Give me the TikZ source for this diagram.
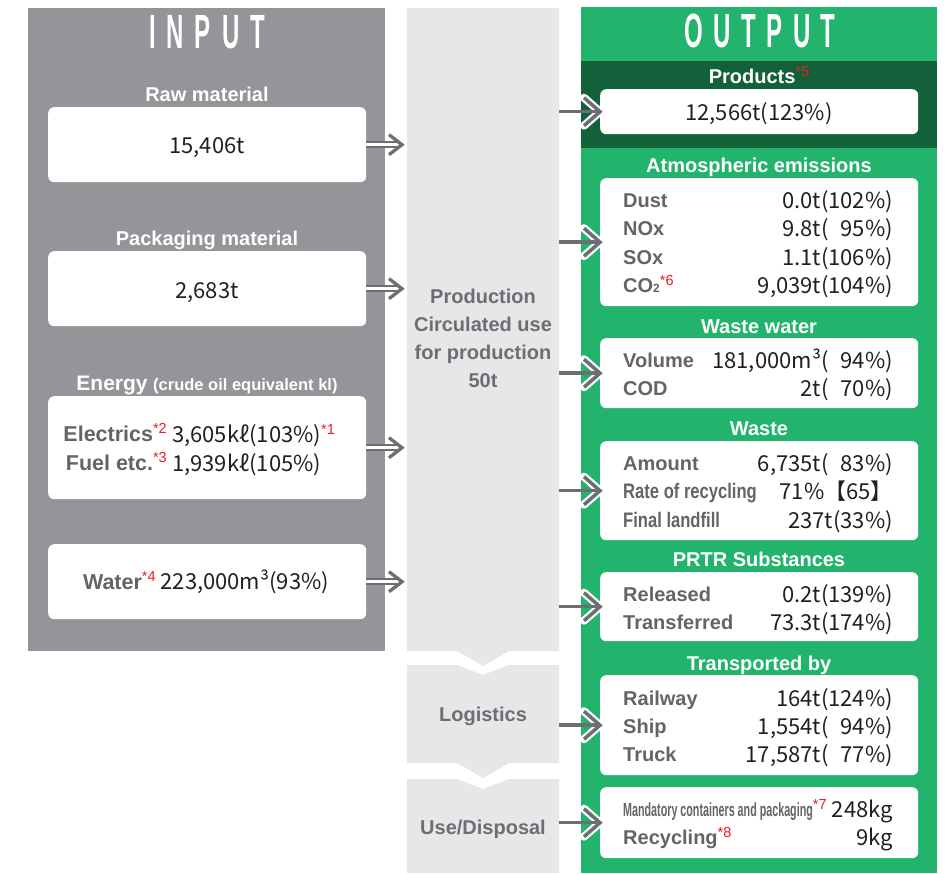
\documentclass[tikz,border=0pt]{standalone}
\usepackage{fontspec}
\usepackage{graphicx}
\usetikzlibrary{calc}
\setmainfont{Liberation Sans}
\newfontfamily\jp{Noto Sans CJK JP}
\definecolor{inputgray}{HTML}{939598}
\definecolor{colgray}{HTML}{E6E7E8}
\definecolor{outgreen}{HTML}{22B36C}
\definecolor{dkgreen}{HTML}{13613A}
\definecolor{arrowgray}{HTML}{6D6E71}
\definecolor{labgray}{HTML}{636466}
\definecolor{valc}{HTML}{231F20}
\definecolor{redc}{HTML}{ED1C24}
\newcommand\rsup[1]{\textcolor{redc}{\raisebox{0.34em}{\normalfont\fontsize{14.5}{14.5}\selectfont *#1}}}
\tikzset{
  wbox/.style={fill=white, rounded corners=6pt, draw=none, inner sep=0pt, anchor=north west, minimum width=318pt},
  hdr/.style={text=white, font=\bfseries\fontsize{20}{20}\selectfont, inner sep=0pt, anchor=base},
  ttl/.style={text=white, font=\bfseries\fontsize{48}{48}\selectfont, inner sep=0pt, anchor=base},
  lab/.style={text=labgray, font=\bfseries\fontsize{20}{20}\selectfont, inner sep=0pt, anchor=base west},
  val/.style={text=valc, font=\jp\fontsize{22}{22}\selectfont, inner sep=0pt, anchor=base east},
  cval/.style={text=valc, font=\jp\fontsize{22}{22}\selectfont, inner sep=0pt, anchor=base},
  coltxt/.style={text=arrowgray, font=\bfseries\fontsize{20}{28}\selectfont, inner sep=0pt, align=center},
}
\newcommand\inarrow[1]{%
  \draw[arrowgray, line width=7pt] (#1.east) -- (#1.east -| inEnd);
  \draw[white, line width=2.6pt] (#1.east) -- (#1.east -| inEnd);
  \draw[arrowgray, line width=3.3pt] ($(#1.east -| inTip)+(-13,-10)$) -- (#1.east -| inTip) -- ($(#1.east -| inTip)+(-13,10)$);
}
\newcommand\outarrow[1]{%
  \draw[white, line width=8pt, line join=round, line cap=round] ($(#1.west)+(-16,-14)$) -- (#1.west) -- ($(#1.west)+(-16,14)$);
  \draw[arrowgray, line width=3.5pt] (colE |- #1.west) -- ($(#1.west)+(-3,0)$);
  \draw[arrowgray, line width=3.5pt] ($(#1.west)+(-16,-14)$) -- (#1.west) -- ($(#1.west)+(-16,14)$);
}
\begin{document}
\begin{tikzpicture}[x=1pt,y=-1pt]
\fill[white] (0,0) rectangle (952,873);
\useasboundingbox (0,0) rectangle (952,873);
% panels
\fill[inputgray] (28,8) rectangle (385,651);
\fill[colgray] (407,8) -- (559,8) -- (559,651) -- (509,651) -- (483,666) -- (457,651) -- (407,651) -- cycle;
\fill[colgray] (407,665) -- (457,665) -- (483,675) -- (509,665) -- (559,665) -- (559,763) -- (509,763) -- (483,778) -- (457,763) -- (407,763) -- cycle;
\fill[colgray] (407,779) -- (457,779) -- (483,789) -- (509,779) -- (559,779) -- (559,873) -- (407,873) -- cycle;
\fill[outgreen] (581,7) rectangle (937,873);
\fill[dkgreen] (581,61) rectangle (937,148);
\coordinate (colE) at (559,0);
\coordinate (inEnd) at (397,0);
\coordinate (inTip) at (402,0);
% titles
\node[ttl] (tin) at (207,48) {\scalebox{0.5}[1]{I\hspace{22pt}N\hspace{22pt}P\hspace{22pt}U\hspace{22pt}T}};
\node[ttl] (tout) at (760,47) {\scalebox{0.5}[1]{O\hspace{21pt}U\hspace{21pt}T\hspace{21pt}P\hspace{21pt}U\hspace{21pt}T}};
% input boxes
\node[hdr] (hraw) at (207,101) {Raw material};
\node[wbox, minimum height=75pt] (raw) at (48,107) {};
\node[cval] (rawv) at (207,153) {15,406t};
\node[hdr] (hpack) at (207,245) {Packaging material};
\node[wbox, minimum height=75pt] (pack) at (48,251) {};
\node[cval] (packv) at (207,298) {2,683t};
\node[hdr] (hen) at (207,390) {{\fontsize{21}{21}\selectfont Energy} {\fontsize{16.5}{16.5}\selectfont (crude oil equivalent kl)}};
\node[wbox, minimum height=103pt] (energy) at (48,396) {};
\node[lab, anchor=base east, font=\bfseries\fontsize{21.5}{21.5}\selectfont] (elecl) at (167,441) {Electrics\rsup{2}};
\node[cval, anchor=base west] (elecv) at (172,442) {3,605kℓ(103\%)\rsup{1}};
\node[lab, anchor=base east, font=\bfseries\fontsize{21.5}{21.5}\selectfont] (fuell) at (167,470) {Fuel etc.\rsup{3}};
\node[cval, anchor=base west] (fuelv) at (172,471) {1,939kℓ(105\%)};
\node[wbox, minimum height=75pt] (water) at (48,544) {};
\node[cval] (waterv) at (206,589) {{\bfseries\rmfamily\color{labgray}\fontsize{21.5}{21.5}\selectfont Water}\rsup{4} 223,000m³(93\%)};
% production column
\node[coltxt] (prod) at (483,338) {Production\\Circulated use\\for production\\50t};
\node[coltxt] (logi) at (483,716) {Logistics};
\node[coltxt] (usedisp) at (483,829) {Use/Disposal};
% output
\node[hdr] (hprod) at (759,83) {Products\rsup{5}};
\node[wbox, minimum height=45pt] (prodbox) at (600,89) {};
\node[cval] (prodv) at (759,120) {12,566t(123\%)};
\node[hdr] (hatm) at (759,172) {Atmospheric emissions};
\node[wbox, minimum height=128pt] (atm) at (600,178) {};
\node[lab] (dustl) at (623,207) {Dust};
\node[val] (dustv) at (893,208) {0.0t(102\%)};
\node[lab] (noxl) at (623,235) {NOx};
\node[val] (noxv) at (893,236) {9.8t(\hphantom{1}95\%)};
\node[lab] (soxl) at (623,264) {SOx};
\node[val] (soxv) at (893,265) {1.1t(106\%)};
\node[lab] (co2l) at (623,292) {CO{\fontsize{12}{12}\selectfont 2}\rsup{6}};
\node[val] (co2v) at (893,293) {9,039t(104\%)};
\node[hdr] (hww) at (759,333) {Waste water};
\node[wbox, minimum height=70pt] (ww) at (600,338) {};
\node[lab] (voll) at (623,367) {Volume};
\node[val] (volv) at (893,368) {181,000m³(\hphantom{1}94\%)};
\node[lab] (codl) at (623,395) {COD};
\node[val] (codv) at (893,396) {2t(\hphantom{1}70\%)};
\node[hdr] (hwaste) at (759,435) {Waste};
\node[wbox, minimum height=99pt] (waste) at (600,441) {};
\node[lab] (amtl) at (623,470) {Amount};
\node[val] (amtv) at (893,471) {6,735t(\hphantom{1}83\%)};
\node[lab, font=\bfseries\fontsize{21}{21}\selectfont] (ratel) at (623,498) {\scalebox{0.79}[1]{Rate of recycling}};
\node[val] (ratev) at (893,499) {71\%【65】};
\node[lab, font=\bfseries\fontsize{21}{21}\selectfont] (finl) at (623,527) {\scalebox{0.79}[1]{Final landfill}};
\node[val] (finv) at (893,528) {237t(33\%)};
\node[hdr] (hprtr) at (759,566) {PRTR Substances};
\node[wbox, minimum height=69pt] (prtr) at (600,572) {};
\node[lab] (rell) at (623,601) {Released};
\node[val] (relv) at (893,602) {0.2t(139\%)};
\node[lab] (trl) at (623,629) {Transferred};
\node[val] (trv) at (893,630) {73.3t(174\%)};
\node[hdr] (htrans) at (759,670) {Transported by};
\node[wbox, minimum height=100pt] (trans) at (600,675) {};
\node[lab] (raill) at (623,705) {Railway};
\node[val] (railv) at (893,706) {164t(124\%)};
\node[lab] (shipl) at (623,733) {Ship};
\node[val] (shipv) at (893,734) {1,554t(\hphantom{1}94\%)};
\node[lab] (truckl) at (623,761) {Truck};
\node[val] (truckv) at (893,762) {17,587t(\hphantom{1}77\%)};
\node[wbox, minimum height=71pt] (use) at (600,787) {};
\node[lab] (mandl) at (623,816) {{\fontsize{19}{19}\selectfont\scalebox{0.565}[1]{Mandatory containers and packaging}}\rsup{7}};
\node[val] (mandv) at (893,817) {248kg};
\node[lab] (recl) at (623,844) {Recycling\rsup{8}};
\node[val] (recv) at (893,845) {9kg};
% arrows
\inarrow{raw}
\inarrow{pack}
\inarrow{energy}
\inarrow{water}
\outarrow{prodbox}
\outarrow{atm}
\outarrow{ww}
\outarrow{waste}
\outarrow{prtr}
\outarrow{trans}
\outarrow{use}
\end{tikzpicture}
\end{document}
